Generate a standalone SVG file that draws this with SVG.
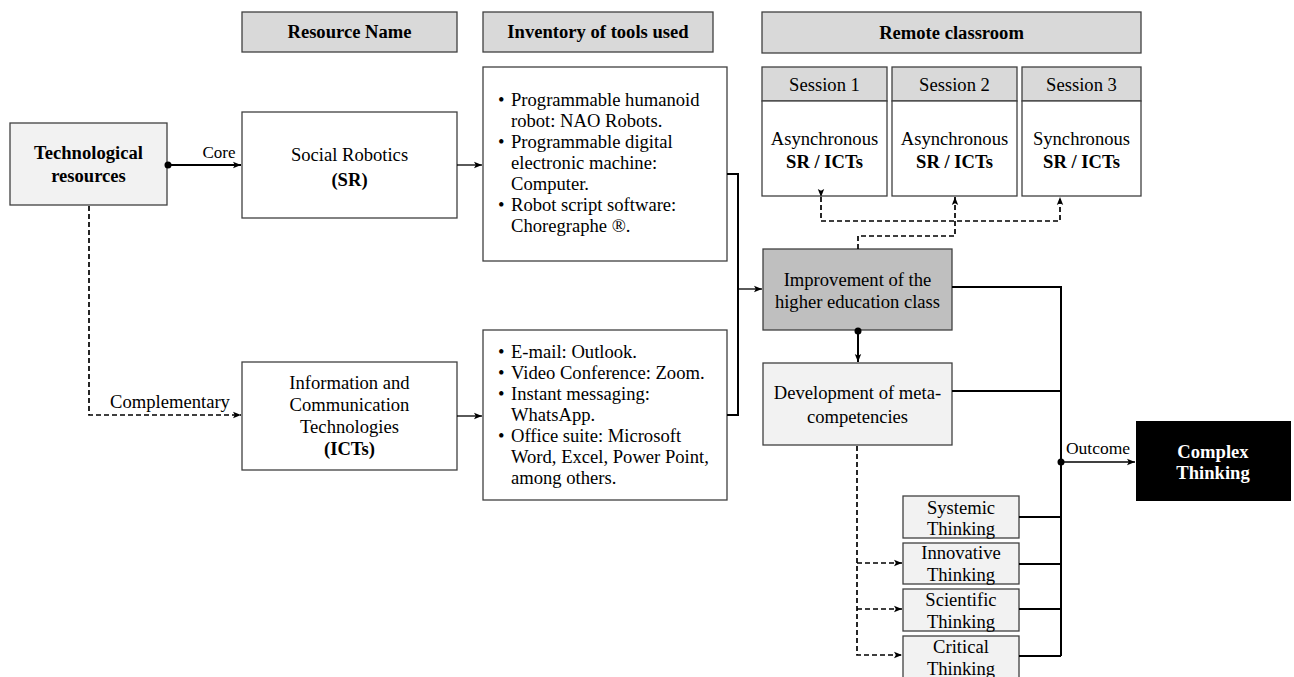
<svg xmlns="http://www.w3.org/2000/svg" width="1294" height="677" viewBox="0 0 1294 677">
<defs>
<marker id="arr" viewBox="0 0 8 8" refX="8" refY="4" markerWidth="8" markerHeight="8" markerUnits="userSpaceOnUse" orient="auto">
<path d="M0,0.8 L8,4 L0,7.2 L1.8,4 Z" fill="#000"/>
</marker>
<marker id="dot" viewBox="0 0 8 8" refX="4" refY="4" markerWidth="8" markerHeight="8" markerUnits="userSpaceOnUse">
<circle cx="4" cy="4" r="3.5" fill="#000"/>
</marker>
</defs>
<style>
text{font-family:"Liberation Serif","Times New Roman",serif;font-size:18.6px;fill:#000;text-anchor:middle}
.b{font-weight:bold}
.l{text-anchor:start}
.box{stroke:#404040;stroke-width:1.3}
.w{fill:#fff}
.lg{fill:#f2f2f2}
.g{fill:#d9d9d9}
.dg{fill:#bfbfbf}
.c{fill:none;stroke:#000;stroke-width:2}
.t{fill:none;stroke:#000;stroke-width:1.3}
.d{fill:none;stroke:#000;stroke-width:1.7;stroke-dasharray:5 3}
</style>

<g id="headers">
<rect class="box g" x="242" y="12" width="215" height="40"/>
<text class="b" x="349.5" y="38">Resource Name</text>
<rect class="box g" x="483" y="12" width="230" height="40"/>
<text class="b" x="598" y="38">Inventory of tools used</text>
<rect class="box g" x="762" y="12" width="379" height="41"/>
<text class="b" x="951.5" y="39">Remote classroom</text>
</g>

<g id="tech-resources">
<rect class="box lg" x="10" y="123" width="157" height="82"/>
<text class="b" x="88.5" y="159">Technological</text>
<text class="b" x="88.5" y="182">resources</text>
</g>

<g id="sr">
<rect class="box w" x="242" y="112" width="215" height="106"/>
<text x="349.5" y="161">Social Robotics</text>
<text class="b" x="349.5" y="186">(SR)</text>
</g>

<g id="ict">
<rect class="box w" x="242" y="362" width="215" height="108"/>
<text x="349.5" y="389">Information and</text>
<text x="349.5" y="411">Communication</text>
<text x="349.5" y="433">Technologies</text>
<text class="b" x="349.5" y="455">(ICTs)</text>
</g>

<g id="tools-sr">
<rect class="box w" x="483" y="67" width="244" height="194"/>
<text class="l" x="498" y="106">•</text><text class="l" x="511" y="106">Programmable humanoid</text>
<text class="l" x="511" y="127">robot: NAO Robots.</text>
<text class="l" x="498" y="148">•</text><text class="l" x="511" y="148">Programmable digital</text>
<text class="l" x="511" y="169">electronic machine:</text>
<text class="l" x="511" y="190">Computer.</text>
<text class="l" x="498" y="211">•</text><text class="l" x="511" y="211">Robot script software:</text>
<text class="l" x="511" y="232">Choregraphe ®.</text>
</g>

<g id="tools-ict">
<rect class="box w" x="483" y="330" width="244" height="170"/>
<text class="l" x="498" y="358">•</text><text class="l" x="511" y="358">E-mail: Outlook.</text>
<text class="l" x="498" y="379">•</text><text class="l" x="511" y="379">Video Conference: Zoom.</text>
<text class="l" x="498" y="400">•</text><text class="l" x="511" y="400">Instant messaging:</text>
<text class="l" x="511" y="421">WhatsApp.</text>
<text class="l" x="498" y="442">•</text><text class="l" x="511" y="442">Office suite: Microsoft</text>
<text class="l" x="511" y="463">Word, Excel, Power Point,</text>
<text class="l" x="511" y="484">among others.</text>
</g>

<g id="session1">
<rect class="box g" x="762" y="67" width="125" height="34"/>
<rect class="box w" x="762" y="101" width="125" height="95"/>
<text x="824.5" y="91">Session 1</text>
<text x="824.5" y="145">Asynchronous</text>
<text class="b" x="824.5" y="168">SR / ICTs</text>
</g>
<g id="session2">
<rect class="box g" x="892" y="67" width="125" height="34"/>
<rect class="box w" x="892" y="101" width="125" height="95"/>
<text x="954.5" y="91">Session 2</text>
<text x="954.5" y="145">Asynchronous</text>
<text class="b" x="954.5" y="168">SR / ICTs</text>
</g>
<g id="session3">
<rect class="box g" x="1022" y="67" width="119" height="34"/>
<rect class="box w" x="1022" y="101" width="119" height="95"/>
<text x="1081.5" y="91">Session 3</text>
<text x="1081.5" y="145">Synchronous</text>
<text class="b" x="1081.5" y="168">SR / ICTs</text>
</g>

<g id="improvement">
<rect class="box dg" x="763" y="249" width="189" height="81"/>
<text x="857.5" y="286">Improvement of the</text>
<text x="857.5" y="308">higher education class</text>
</g>

<g id="development">
<rect class="box lg" x="763" y="363" width="189" height="82"/>
<text x="857.5" y="399">Development of meta-</text>
<text x="857.5" y="423">competencies</text>
</g>

<g id="systemic">
<rect class="box lg" x="903" y="496" width="116" height="42"/>
<text x="961" y="514">Systemic</text>
<text x="961" y="535">Thinking</text>
</g>
<g id="innovative">
<rect class="box lg" x="903" y="543" width="116" height="41"/>
<text x="961" y="559">Innovative</text>
<text x="961" y="581">Thinking</text>
</g>
<g id="scientific">
<rect class="box lg" x="903" y="589" width="116" height="42"/>
<text x="961" y="606">Scientific</text>
<text x="961" y="628">Thinking</text>
</g>
<g id="critical">
<rect class="box lg" x="903" y="636" width="116" height="45"/>
<text x="961" y="653">Critical</text>
<text x="961" y="675">Thinking</text>
</g>

<g id="complex-thinking">
<rect x="1136" y="421" width="155" height="80" fill="#000"/>
<text class="b" x="1213" y="458" style="fill:#fff">Complex</text>
<text class="b" x="1213" y="479" style="fill:#fff">Thinking</text>
</g>

<g id="connectors">
<path class="c" d="M168,165 H241" marker-start="url(#dot)" marker-end="url(#arr)"/>
<text x="219" y="158" style="font-size:17px">Core</text>
<path class="d" d="M89,206 V415 H241" marker-end="url(#arr)"/>
<text x="170" y="408">Complementary</text>
<path class="t" d="M457,165 H482" marker-end="url(#arr)"/>
<path class="t" d="M457,416 H482" marker-end="url(#arr)"/>
<path class="c" d="M727,174 H738 V415 H727"/>
<path class="t" d="M738,289 H762" marker-end="url(#arr)"/>
<path class="d" d="M858,249 V236 H955 V197" marker-end="url(#arr)"/>
<path class="d" d="M821,197 V221 H1060 V197" marker-start="url(#arr)" marker-end="url(#arr)"/>
<path class="c" d="M858,331 V362" marker-start="url(#dot)" marker-end="url(#arr)"/>
<path class="c" d="M952,287 H1061 V656"/>
<path class="c" d="M952,391 H1061"/>
<path class="c" d="M1019,517 H1061"/>
<path class="c" d="M1019,564 H1061"/>
<path class="c" d="M1019,609 H1061"/>
<path class="c" d="M1019,656 H1061"/>
<path class="t" d="M1061,462 H1135" marker-start="url(#dot)" marker-end="url(#arr)"/>
<text x="1098" y="454" style="font-size:17.5px">Outcome</text>
<path class="d" d="M857,446 V655 H902" marker-end="url(#arr)"/>
<path class="d" d="M857,563 H902" marker-end="url(#arr)"/>
<path class="d" d="M857,609 H902" marker-end="url(#arr)"/>
</g>
</svg>
